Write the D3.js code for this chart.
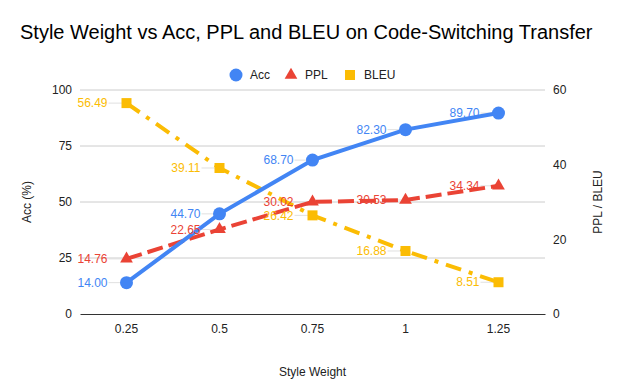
<!DOCTYPE html>
<html>
<head>
<meta charset="utf-8">
<script src="https://cdn.jsdelivr.net/npm/d3@7"></script>
<style>
  body { margin: 0; background: #fff; }
  text { font-family: "Liberation Sans", Arial, sans-serif; }
</style>
</head>
<body>
<div id="chart"></div>
<script>
// Chart data
const styleWeights = ["0.25", "0.5", "0.75", "1", "1.25"];
const accValues = [14.0, 44.7, 68.7, 82.3, 89.7];
const pplValues = [14.76, 22.65, 30.02, 30.53, 34.34];
const bleuValues = [56.49, 39.11, 26.42, 16.88, 8.51];
const leftTicks = [0, 25, 50, 75, 100];
const rightTicks = [0, 20, 40, 60];

const width = 624;
const height = 386;
const margin = { top: 90, right: 79, bottom: 72, left: 80 };

const svg = d3
  .select("#chart")
  .append("svg")
  .attr("width", width)
  .attr("height", height);

// Scales
const x = d3
  .scaleBand()
  .domain(styleWeights)
  .range([margin.left, width - margin.right]);
const yLeft = d3.scaleLinear().domain([0, 100]).range([height - margin.bottom, margin.top]);
const yRight = d3.scaleLinear().domain([0, 60]).range([height - margin.bottom, margin.top]);
const cx = (d) => x(d) + x.bandwidth() / 2;

// Title
svg
  .append("text")
  .attr("x", 20)
  .attr("y", 39)
  .text("Style Weight vs Acc, PPL and BLEU on Code-Switching Transfer")
  .style("font-size", "20px")
  .style("fill", "#000");

// Gridlines
svg
  .append("g")
  .selectAll("line")
  .data(leftTicks.slice(1))
  .enter()
  .append("line")
  .attr("x1", margin.left)
  .attr("x2", width - margin.right)
  .attr("y1", (d) => yLeft(d))
  .attr("y2", (d) => yLeft(d))
  .attr("stroke", "#cccccc")
  .attr("stroke-width", 1);

// Left axis
const leftAxis = svg
  .append("g")
  .attr("transform", `translate(${margin.left},0)`)
  .call(d3.axisLeft(yLeft).tickValues(leftTicks).tickSize(0).tickPadding(8));
leftAxis.select(".domain").remove();
leftAxis.selectAll("text").style("font-size", "12px").style("fill", "#222").style("font-family", "Liberation Sans, Arial");

// Right axis
const rightAxis = svg
  .append("g")
  .attr("transform", `translate(${width - margin.right},0)`)
  .call(d3.axisRight(yRight).tickValues(rightTicks).tickSize(0).tickPadding(8));
rightAxis.select(".domain").remove();
rightAxis.selectAll("text").style("font-size", "12px").style("fill", "#222").style("font-family", "Liberation Sans, Arial");

// Bottom axis
const bottomAxis = svg
  .append("g")
  .attr("transform", `translate(0,${height - margin.bottom})`)
  .call(d3.axisBottom(x).tickSize(0).tickPadding(10));
bottomAxis.select(".domain").attr("stroke", "#333").attr("stroke-width", 1);
bottomAxis.selectAll("text").style("font-size", "12px").style("fill", "#222").style("font-family", "Liberation Sans, Arial");

// Axis titles
svg
  .append("text")
  .attr("x", (margin.left + width - margin.right) / 2)
  .attr("y", 376)
  .attr("text-anchor", "middle")
  .text("Style Weight")
  .style("font-size", "12px")
  .style("fill", "#222");

svg
  .append("text")
  .attr("transform", `translate(31,${(yLeft(0) + yLeft(100)) / 2}) rotate(-90)`)
  .attr("text-anchor", "middle")
  .text("Acc (%)")
  .style("font-size", "12px")
  .style("fill", "#222");

svg
  .append("text")
  .attr("transform", `translate(602,${(yLeft(0) + yLeft(100)) / 2}) rotate(-90)`)
  .attr("text-anchor", "middle")
  .text("PPL / BLEU")
  .style("font-size", "12px")
  .style("fill", "#222");

// Series definitions
const series = [
  { name: "Acc", values: accValues, scale: yLeft, color: "#4285f4", dash: null, shape: "circle" },
  { name: "PPL", values: pplValues, scale: yRight, color: "#ea4335", dash: "16,6", shape: "triangle" },
  { name: "BLEU", values: bleuValues, scale: yRight, color: "#fbbc04", dash: "16,8,4,8", shape: "square" },
];
series.forEach((s) => {
  s.pts = s.values.map((v, i) => [cx(styleWeights[i]), s.scale(v)]);
});

function drawMarker(g, shape, color, px, py) {
  if (shape === "circle") {
    g.append("circle").attr("cx", px).attr("cy", py).attr("r", 6.5).attr("fill", color);
  } else if (shape === "triangle") {
    g.append("path")
      .attr("d", d3.symbol().type(d3.symbolTriangle).size(70)())
      .attr("transform", `translate(${px},${py})`)
      .attr("fill", color);
  } else {
    g.append("rect")
      .attr("x", px - 5)
      .attr("y", py - 5)
      .attr("width", 10)
      .attr("height", 10)
      .attr("fill", color);
  }
}

// Leader lines for labels
const leaders = svg.append("g");
series.forEach((s) => {
  leaders
    .selectAll(null)
    .data(s.pts)
    .enter()
    .append("line")
    .attr("x1", (d) => d[0] - 18)
    .attr("x2", (d) => d[0] - 4)
    .attr("y1", (d) => d[1])
    .attr("y2", (d) => d[1])
    .attr("stroke", "#e0e0e0")
    .attr("stroke-width", 1);
});

// Lines and markers, drawn from last to first so Acc ends on top
[...series].reverse().forEach((s) => {
  const g = svg.append("g");
  g.append("path")
    .datum(s.pts)
    .attr("d", d3.line())
    .attr("fill", "none")
    .attr("stroke", s.color)
    .attr("stroke-width", 4)
    .attr("stroke-dasharray", s.dash);
  s.pts.forEach((p) => drawMarker(g, s.shape, s.color, p[0], p[1]));
});

// Data labels on top
[...series].reverse().forEach((s) => {
  svg
    .append("g")
    .selectAll("text")
    .data(s.values)
    .enter()
    .append("text")
    .attr("x", (d, i) => s.pts[i][0] - 19)
    .attr("y", (d, i) => s.pts[i][1])
    .attr("dy", "0.35em")
    .attr("text-anchor", "end")
    .text((d) => d.toFixed(2))
    .style("font-size", "12px")
    .style("fill", s.color);
});

// Legend
const legendItems = [
  { name: "Acc", x: 236, color: "#4285f4", shape: "circle" },
  { name: "PPL", x: 291, color: "#ea4335", shape: "triangle" },
  { name: "BLEU", x: 350, color: "#fbbc04", shape: "square" },
];
const legend = svg.append("g");
legendItems.forEach((d) => {
  drawMarker(legend, d.shape, d.color, d.x, 75);
  legend
    .append("text")
    .attr("x", d.x + 14)
    .attr("y", 75)
    .attr("dy", "0.35em")
    .text(d.name)
    .style("font-size", "12px")
    .style("fill", "#222");
});
</script>
</body>
</html>
